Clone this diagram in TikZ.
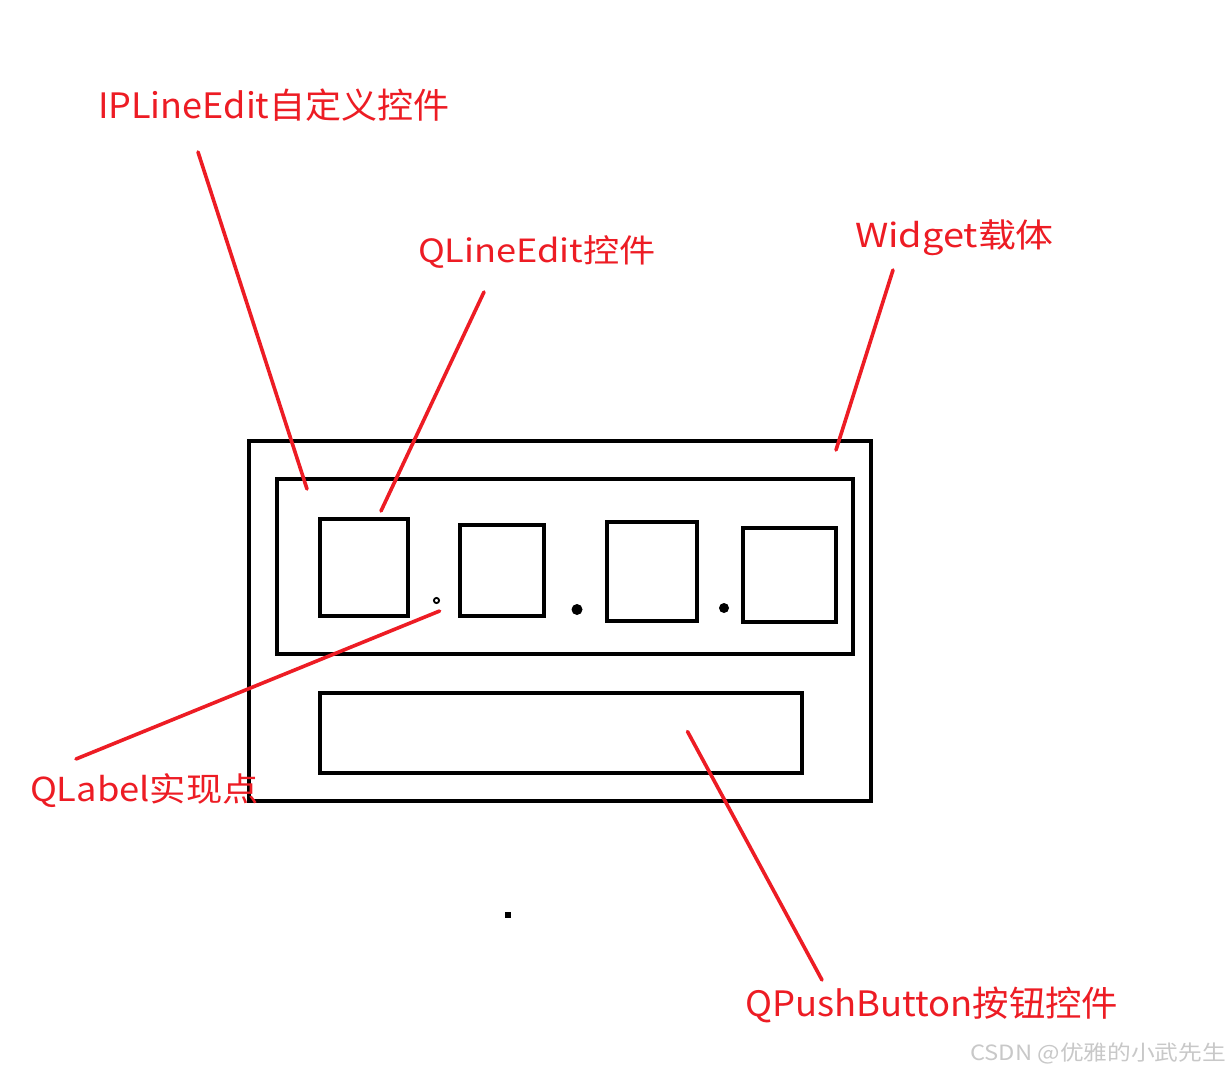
\documentclass[tikz,border=0pt]{standalone}
\usepackage{fontspec}
\setmainfont{Noto Sans CJK SC}
\definecolor{pred}{RGB}{237,28,36}
\definecolor{wm}{RGB}{200,200,200}
\begin{document}
\begin{tikzpicture}[x=1pt,y=-1pt,
  box/.style={draw=black,line width=4pt,inner sep=0pt},
  redline/.style={draw=pred,line width=3.6pt,line cap=round},
  lbl/.style={text=pred,anchor=base west,inner sep=0pt,outer sep=0pt}]
\useasboundingbox[fill=white] (0,0) rectangle (1229,1071);
% widgets
\draw[box] (249,441) rectangle (871,801);
\node[box,minimum width=576pt,minimum height=175pt] (ip) at (564.5,566.5) {};
\node[box,minimum width=88pt,minimum height=97pt] (b1) at (364,567.5) {};
\node[box,minimum width=84pt,minimum height=91pt] (b2) at (502,570.5) {};
\node[box,minimum width=90pt,minimum height=99pt] (b3) at (652,571.5) {};
\node[box,minimum width=93pt,minimum height=94pt] (b4) at (789,575) {};
\node[box,minimum width=482pt,minimum height=80pt] (btn) at (561,733) {};
\draw[black,line width=1.8pt] (436.5,600.5) circle (2.6pt);
\fill[black] (577,609.5) circle (5.5pt);
\fill[black] (724,608) circle (5pt);
\fill[black] (505,912) rectangle (511,918);
% labels
\node[lbl,font=\fontsize{35}{40}\selectfont] (t1) at (98,118) {\scalebox{1.03}[1]{IPLineEdit自定义控件}};
\node[lbl,font=\fontsize{32}{38}\selectfont] (t2) at (418,262) {\scalebox{1.13}[1]{QLineEdit控件}};
\node[lbl,font=\fontsize{33}{38}\selectfont] (t3) at (855,247) {\scalebox{1.15}[1]{Widget载体}};
\node[lbl,font=\fontsize{33}{38}\selectfont] (t4) at (30,801) {\scalebox{1.10}[1]{QLabel实现点}};
\node[lbl,font=\fontsize{35}{40}\selectfont] (t5) at (745,1016) {\scalebox{1.04}[1]{QPushButton按钮控件}};
\node[text=wm,anchor=base west,inner sep=0pt,font=\fontsize{21}{24}\selectfont] (wmk) at (970,1060) {\scalebox{1.13}[1]{CSDN @优雅的小武先生}};
% connectors
\coordinate (a1) at (198,152); \coordinate (e1) at (307,489);
\coordinate (a2) at (484,292); \coordinate (e2) at (381,511);
\coordinate (a3) at (893,270); \coordinate (e3) at (836,450);
\coordinate (a4) at (76,759);  \coordinate (e4) at (439.6,611);
\coordinate (a5) at (822,980); \coordinate (e5) at (687.5,731.5);
\draw[redline] (a1) -- (e1);
\draw[redline] (a2) -- (e2);
\draw[redline] (a3) -- (e3);
\draw[redline] (a4) -- (e4);
\draw[redline] (a5) -- (e5);
\end{tikzpicture}
\end{document}
